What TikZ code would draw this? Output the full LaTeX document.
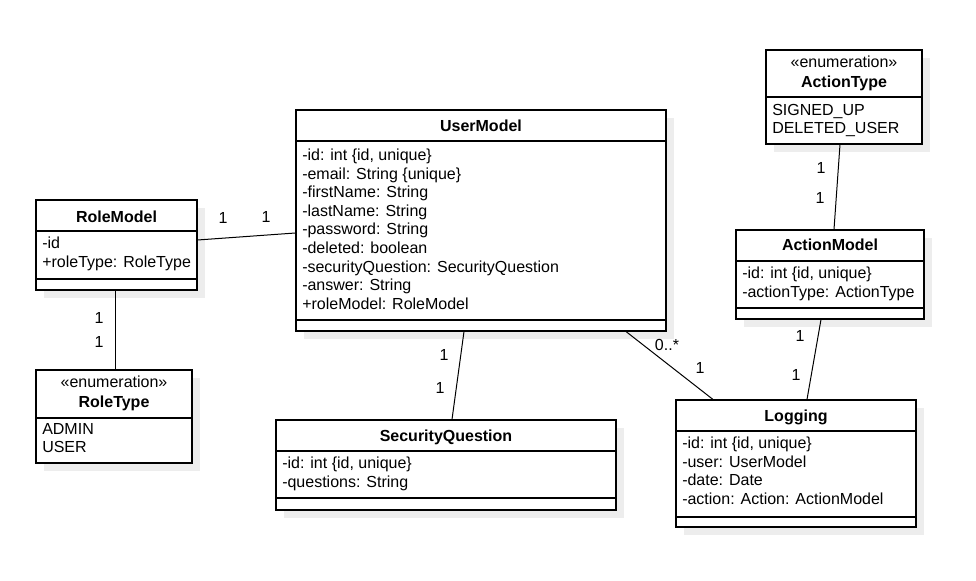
\documentclass[tikz,border=0pt]{standalone}
\usepackage{fontspec}
\setmainfont{Liberation Sans}
\usetikzlibrary{fit,shadows}
\definecolor{ink}{HTML}{000000}
\definecolor{shade}{HTML}{EDEDED}
\tikzset{
  classbox/.style={draw=ink, line width=0.8pt, fill=white, inner sep=0pt,
    drop shadow={shadow xshift=6pt, shadow yshift=-6pt, fill=shade, opacity=1}},
  classtitle/.style={font=\bfseries\fontsize{12}{14}\selectfont, text=ink, inner sep=0pt, text height=8.6pt, text depth=0pt},
  stereo/.style={font=\fontsize{12}{14}\selectfont, text=ink, inner sep=0pt, text height=8.6pt, text depth=0pt},
  attrs/.style={anchor=north west, align=left, font=\fontsize{12}{13.9}\selectfont, text=ink, inner sep=0pt},
  divider/.style={draw=ink, line width=0.8pt},
  assoc/.style={draw=ink, line width=0.75pt},
  mult/.style={font=\fontsize{12}{14}\selectfont, text=ink, inner sep=0pt, text height=8.6pt, text depth=0pt}
}
\begin{document}
\begin{tikzpicture}[x=0.75pt, y=-0.75pt]
  \fill[white] (0,0) rectangle (976,581);
  \useasboundingbox (0,0) rectangle (976,581);

  % class boxes
  \node[classbox, fit={(296,110) (666,331)}] (user) {};
  \node[classbox, fit={(36,200) (197,290)}] (role) {};
  \node[classbox, fit={(36,370) (192,463)}] (roletype) {};
  \node[classbox, fit={(766,50) (922,144)}] (actiontype) {};
  \node[classbox, fit={(736,230) (924,319)}] (action) {};
  \node[classbox, fit={(676,400) (916,527)}] (logging) {};
  \node[classbox, fit={(276,420) (616,510)}] (question) {};

  % compartments
  \draw[divider] (user.west |- 0,141) -- (user.east |- 0,141);
  \draw[divider] (user.west |- 0,320) -- (user.east |- 0,320);
  \draw[divider] (role.west |- 0,231) -- (role.east |- 0,231);
  \draw[divider] (role.west |- 0,279) -- (role.east |- 0,279);
  \draw[divider] (roletype.west |- 0,418) -- (roletype.east |- 0,418);
  \draw[divider] (actiontype.west |- 0,97) -- (actiontype.east |- 0,97);
  \draw[divider] (action.west |- 0,261) -- (action.east |- 0,261);
  \draw[divider] (action.west |- 0,308) -- (action.east |- 0,308);
  \draw[divider] (logging.west |- 0,431) -- (logging.east |- 0,431);
  \draw[divider] (logging.west |- 0,517) -- (logging.east |- 0,517);
  \draw[divider] (question.west |- 0,451) -- (question.east |- 0,451);
  \draw[divider] (question.west |- 0,498) -- (question.east |- 0,498);

  % titles
  \node[classtitle] (userT) at (user.north |- 0,126) {UserModel};
  \node[classtitle] (roleT) at (role.north |- 0,216.5) {RoleModel};
  \node[stereo] (roletypeS) at (roletype.north |- 0,382) {«enumeration»};
  \node[classtitle] (roletypeT) at (roletype.north |- 0,401.5) {RoleType};
  \node[stereo] (actiontypeS) at (actiontype.north |- 0,62) {«enumeration»};
  \node[classtitle] (actiontypeT) at (actiontype.north |- 0,81.5) {ActionType};
  \node[classtitle] (actionT) at (action.north |- 0,245) {ActionModel};
  \node[classtitle] (loggingT) at (logging.north |- 0,415.5) {Logging};
  \node[classtitle] (questionT) at (question.north |- 0,435.5) {SecurityQuestion};

  % attributes
  \node[attrs] (userA) at (302,149) {-id: int \{id, unique\}\\-email: String \{unique\}\\-firstName: String\\-lastName: String\\-password: String\\-deleted: boolean\\-securityQuestion: SecurityQuestion\\-answer: String\\+roleModel: RoleModel};
  \node[attrs] (roleA) at (42,237) {-id\\+roleType: RoleType};
  \node[attrs] (roletypeA) at (42,423) {ADMIN\\USER};
  \node[attrs] (actiontypeA) at (772,104) {SIGNED\_UP\\DELETED\_USER};
  \node[attrs] (actionA) at (742,267) {-id: int \{id, unique\}\\-actionType: ActionType};
  \node[attrs] (loggingA) at (682,437) {-id: int \{id, unique\}\\-user: UserModel\\-date: Date\\-action: Action: ActionModel};
  \node[attrs] (questionA) at (282,457) {-id: int \{id, unique\}\\-questions: String};

  % associations
  \draw[assoc] (role.east |- 0,240) -- (user.west |- 0,233);
  \draw[assoc] (115,0 |- role.south) -- (115,0 |- roletype.north);
  \draw[assoc] (464,0 |- user.south) -- (452,0 |- question.north);
  \draw[assoc] (626,0 |- user.south) -- (713,0 |- logging.north);
  \draw[assoc] (840,0 |- actiontype.south) -- (834,0 |- action.north);
  \draw[assoc] (821,0 |- action.south) -- (807,0 |- logging.north);

  % multiplicities
  \node[mult] (m1) at (223,218) {1};
  \node[mult] (m2) at (266,217) {1};
  \node[mult] (m3) at (99,318) {1};
  \node[mult] (m4) at (99,341.5) {1};
  \node[mult] (m5) at (444,355) {1};
  \node[mult] (m6) at (440,387.5) {1};
  \node[mult] (m7) at (667,345) {0..*};
  \node[mult] (m8) at (700,367.5) {1};
  \node[mult] (m9) at (821,168) {1};
  \node[mult] (m10) at (820,198) {1};
  \node[mult] (m11) at (800,336) {1};
  \node[mult] (m12) at (796,375) {1};
\end{tikzpicture}
\end{document}
